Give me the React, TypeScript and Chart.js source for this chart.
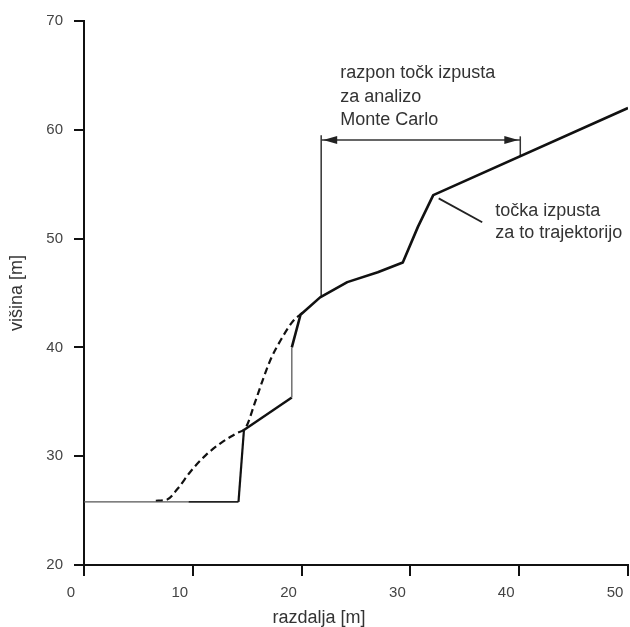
import React, { useEffect, useRef } from "react";
import { Chart, registerables } from "chart.js";

Chart.register(...registerables);

// ---- data ----
const profileX = [0, 9.6, 14.2, 14.7, 19.1, 19.1, 19.9, 21.7, 24.2, 27.0, 29.3, 30.7, 32.1, 50];
const profileY = [25.8, 25.8, 25.8, 32.4, 35.4, 40.0, 43.0, 44.6, 46.0, 46.9, 47.8, 51.1, 54.0, 62.0];

const dashX = [6.6, 7.6, 8.6, 9.8, 11.2, 12.7, 14.0, 14.9, 15.7, 16.5, 17.2, 18.1, 19.2, 20.1];
const dashY = [25.9, 26.0, 27.0, 28.6, 30.1, 31.3, 32.1, 32.7, 34.9, 37.2, 39.0, 40.7, 42.4, 43.2];

const rangeLeftX = [21.8, 21.8];
const rangeLeftY = [44.7, 59.5];
const rangeRightX = [40.1, 40.1];
const rangeRightY = [57.6, 59.4];
const rangeArrowX = [21.8, 40.1];
const rangeArrowY = [59.06, 59.06];
const leaderX = [32.6, 36.6];
const leaderY = [53.7, 51.5];

const rangeTextX = 23.55;
const rangeTextY = [65.2, 63.0, 60.9];
const rangeText = ["razpon točk izpusta", "za analizo", "Monte Carlo"];
const pointTextX = 37.8;
const pointTextY = [52.5, 50.5];
const pointText = ["točka izpusta", "za to trajektorijo"];

const xTicks = [0, 10, 20, 30, 40, 50];
const yTicks = [20, 30, 40, 50, 60, 70];
const xTitle = "razdalja [m]";
const xTitleAt = 21.6;
const yTitle = "višina [m]";

const zip = (xs: number[], ys: number[]) => xs.map((v, i) => ({ x: v, y: ys[i] }));

const FONT = '"Liberation Sans", Arial, Helvetica, sans-serif';

// segment widths for the profile (thin terrain parts vs. thick trajectory parts)
const segWidths = [1.4, 1.9, 2.2, 2.4, 1.4, 2.6, 2.6, 2.6, 2.6, 2.6, 2.6, 2.6, 2.6];
const segColors = ["#555", "#222", "#111", "#111", "#666", "#111", "#111", "#111", "#111", "#111", "#111", "#111", "#111"];

const overlay = {
  id: "overlay",
  afterDatasetsDraw(chart: any) {
    const { ctx, scales } = chart;
    const x = scales.x;
    const y = scales.y;
    ctx.save();
    // arrowheads
    ctx.fillStyle = "#222";
    const ay = y.getPixelForValue(rangeArrowY[0]);
    const lx = x.getPixelForValue(rangeArrowX[0]) + 2;
    const rx = x.getPixelForValue(rangeArrowX[1]) - 2;
    ctx.beginPath();
    ctx.moveTo(lx, ay);
    ctx.lineTo(lx + 14, ay - 4);
    ctx.lineTo(lx + 14, ay + 4);
    ctx.closePath();
    ctx.fill();
    ctx.beginPath();
    ctx.moveTo(rx, ay);
    ctx.lineTo(rx - 14, ay - 4);
    ctx.lineTo(rx - 14, ay + 4);
    ctx.closePath();
    ctx.fill();

    // annotation texts
    ctx.font = `18px ${FONT}`;
    ctx.fillStyle = "#333";
    ctx.textAlign = "left";
    ctx.textBaseline = "middle";
    rangeText.forEach((t, i) => {
      ctx.fillText(t, x.getPixelForValue(rangeTextX), y.getPixelForValue(rangeTextY[i]));
    });
    pointText.forEach((t, i) => {
      ctx.fillText(t, x.getPixelForValue(pointTextX), y.getPixelForValue(pointTextY[i]));
    });

    // axis titles
    ctx.textAlign = "center";
    ctx.fillText(xTitle, x.getPixelForValue(xTitleAt), x.bottom - 9);
    ctx.translate(17, (y.top + y.bottom) / 2);
    ctx.rotate(-Math.PI / 2);
    ctx.fillText(yTitle, 0, 0);
    ctx.restore();
  },
};

export default function App() {
  const ref = useRef<HTMLCanvasElement>(null);
  useEffect(() => {
    if (!ref.current) return;
    Chart.defaults.font.family = FONT;
    const thin = { borderColor: "#333", borderWidth: 1.5, pointRadius: 0, showLine: true, fill: false };
    const chart = new Chart(ref.current, {
      type: "line",
      data: {
        datasets: [
          {
            label: "profil",
            data: zip(profileX, profileY),
            borderColor: "#111",
            borderWidth: 2.4,
            pointRadius: 0,
            tension: 0,
            segment: {
              borderWidth: (c: any) => segWidths[c.p0DataIndex],
              borderColor: (c: any) => segColors[c.p0DataIndex],
            },
          },
          {
            label: "trajektorija",
            data: zip(dashX, dashY),
            borderColor: "#111",
            borderWidth: 2.2,
            borderDash: [7, 4],
            pointRadius: 0,
            cubicInterpolationMode: "monotone",
          },
          { label: "razpon levo", data: zip(rangeLeftX, rangeLeftY), ...thin },
          { label: "razpon desno", data: zip(rangeRightX, rangeRightY), ...thin },
          { label: "razpon puščica", data: zip(rangeArrowX, rangeArrowY), ...thin },
          { label: "oznaka", data: zip(leaderX, leaderY), ...thin, borderColor: "#222", borderWidth: 1.8 },
        ] as any,
      },
      options: {
        responsive: false,
        animation: false,
        devicePixelRatio: 1,
        layout: { padding: { top: 21, right: 2, left: 0, bottom: 0 } },
        plugins: { legend: { display: false }, tooltip: { enabled: false } },
        elements: { line: { borderCapStyle: "butt", borderJoinStyle: "round" } },
        scales: {
          x: {
            type: "linear",
            min: 0,
            max: 50,
            afterBuildTicks: (s: any) => {
              s.ticks = xTicks.map((v) => ({ value: v }));
            },
            afterFit: (s: any) => {
              s.height = 62;
              s.paddingLeft = 0;
              s.paddingRight = 0;
            },
            grid: { drawOnChartArea: false, drawTicks: true, tickLength: 11, tickColor: "#111", lineWidth: 2 },
            border: { display: true, color: "#111", width: 2 },
            ticks: { color: "#444", font: { size: 15 }, padding: 8, labelOffset: -13, maxRotation: 0, autoSkip: false },
            title: { display: false },
          },
          y: {
            type: "linear",
            min: 20,
            max: 70,
            afterBuildTicks: (s: any) => {
              s.ticks = yTicks.map((v) => ({ value: v }));
            },
            afterFit: (s: any) => {
              s.width = 84;
              s.paddingTop = 0;
              s.paddingBottom = 0;
            },
            grid: { drawOnChartArea: false, drawTicks: true, tickLength: 10, tickColor: "#111", lineWidth: 2 },
            border: { display: true, color: "#111", width: 2 },
            ticks: { color: "#444", font: { size: 15 }, padding: 11, autoSkip: false },
            title: { display: false },
          },
        },
      } as any,
      plugins: [overlay],
    });
    return () => chart.destroy();
  }, []);
  return (
    <div style={{ position: "absolute", left: 0, top: 0, width: 630, height: 627, background: "#fff" }}>
      <canvas ref={ref} width={630} height={627} />
    </div>
  );
}
